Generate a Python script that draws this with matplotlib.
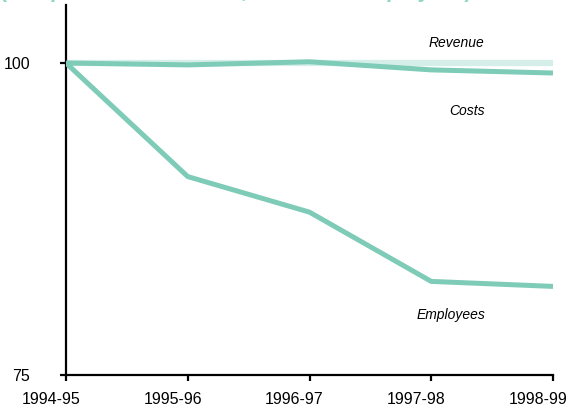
import matplotlib
matplotlib.use("Agg")
import matplotlib.pyplot as plt
import matplotlib.transforms as mtransforms

plt.rcParams['font.family'] = ['Liberation Sans', 'DejaVu Sans']

years = ["1994-95", "1995-96", "1996-97", "1997-98", "1998-99"]
revenue = [100, 100, 100, 100, 100]
costs = [100, 99.85, 100.1, 99.45, 99.2]
employees = [100, 90.9, 88.05, 82.5, 82.1]
y_ticks = [75, 100]

line_teal = "#7ecbb7"
line_pale = "#d5efe8"

fig = plt.figure(figsize=(5.69, 4.09), dpi=100)
ax = fig.add_axes([66 / 569, 34 / 409, 487 / 569, 370 / 409])

x = list(range(len(years)))
ax.plot(x, revenue, color=line_pale, lw=4.5, solid_capstyle="butt", zorder=2)
ax.plot(x, costs, color=line_teal, lw=3.6, solid_capstyle="butt", zorder=3)
ax.plot(x, employees, color=line_teal, lw=3.6, solid_capstyle="butt", zorder=3)

ax.set_xlim(0, len(years) - 1)
ax.set_ylim(75, 104.65)
ax.set_xticks(x)
ax.set_xticklabels(years, fontsize=11.5)
ax.set_yticks(y_ticks)
ax.set_yticklabels([str(v) for v in y_ticks], fontsize=11.5)

for side in ("top", "right"):
    ax.spines[side].set_visible(False)
for side in ("left", "bottom"):
    ax.spines[side].set_linewidth(1.6)
    ax.spines[side].set_color("black")
ax.tick_params(axis="x", direction="out", length=4, width=1.6, pad=8)
ax.tick_params(axis="y", direction="out", length=4, width=1.6, pad=22)

# category labels sit slightly left of their ticks
shift = mtransforms.ScaledTranslation(-15 / 100, 0, fig.dpi_scale_trans)
for lbl in ax.get_xticklabels():
    lbl.set_transform(lbl.get_transform() + shift)

ax.text(3.21, 101.6, "Revenue", style="italic", fontsize=10, ha="center", va="center")
ax.text(3.29, 96.15, "Costs", style="italic", fontsize=10, ha="center", va="center")
ax.text(3.16, 79.8, "Employees", style="italic", fontsize=10, ha="center", va="center")

fig.text(0.0, 1.0 + 1.5 / 409, "(compared with revenue, costs and employees)",
         color="#8fd5c3", fontsize=15, fontweight="bold", ha="left", va="baseline")

fig.savefig("out.png", dpi=100)
